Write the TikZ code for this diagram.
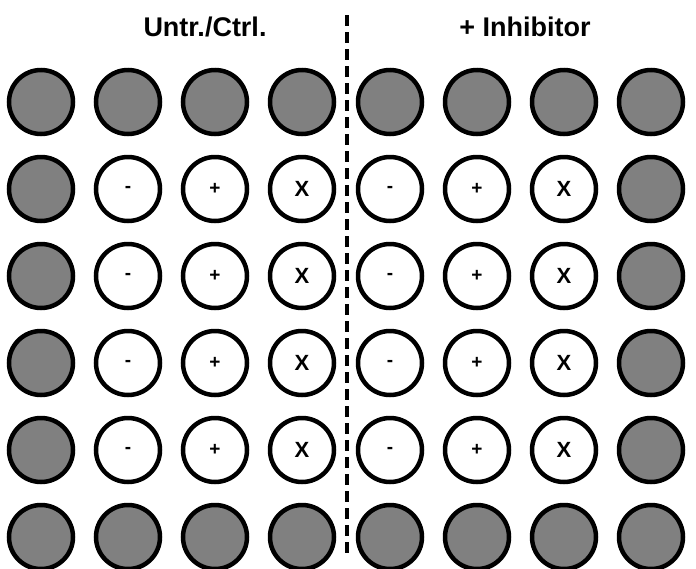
\documentclass[tikz,border=0pt]{standalone}
\usepackage{fontspec}
\setmainfont{Liberation Sans}
\begin{document}
\begin{tikzpicture}[x=1pt,y=-1pt,
  well/.style={circle,draw=black,line width=4.5pt,minimum size=64pt,inner sep=0pt},
  gw/.style={well,fill={rgb,255:red,128;green,128;blue,128}},
  ww/.style={well,fill=white,font=\bfseries\fontsize{19}{19}\selectfont},
  wx/.style={ww,font=\bfseries\fontsize{22}{22}\selectfont},
  title/.style={font=\bfseries\fontsize{27}{30}\selectfont}]
\useasboundingbox (0,0) rectangle (696,568);
\node[title] (t1) at (205,27) {Untr./Ctrl.};
\node[title] (t2) at (525,27) {+ Inhibitor};
\coordinate (d1) at (347,15);
\coordinate (d2) at (347,556);
\draw[line width=3.5pt,dash pattern=on 11pt off 6pt] (d1) -- (d2);
\foreach \c [count=\i] in {41,128,215,302,390,477,564,651}{
  \node[gw] (w1\i) at (\c,102) {};
  \node[gw] (w6\i) at (\c,537) {};
}
\foreach \r [count=\j from 2] in {189,276,363,450}{
  \node[gw] (w\j1) at (41,\r) {};
  \node[gw] (w\j8) at (651,\r) {};
  \node[ww] (w\j2) at (128,\r) {-};
  \node[ww] (w\j3) at (215,\r) {+};
  \node[wx] (w\j4) at (302,\r) {X};
  \node[ww] (w\j5) at (390,\r) {-};
  \node[ww] (w\j6) at (477,\r) {+};
  \node[wx] (w\j7) at (564,\r) {X};
}
\end{tikzpicture}
\end{document}
